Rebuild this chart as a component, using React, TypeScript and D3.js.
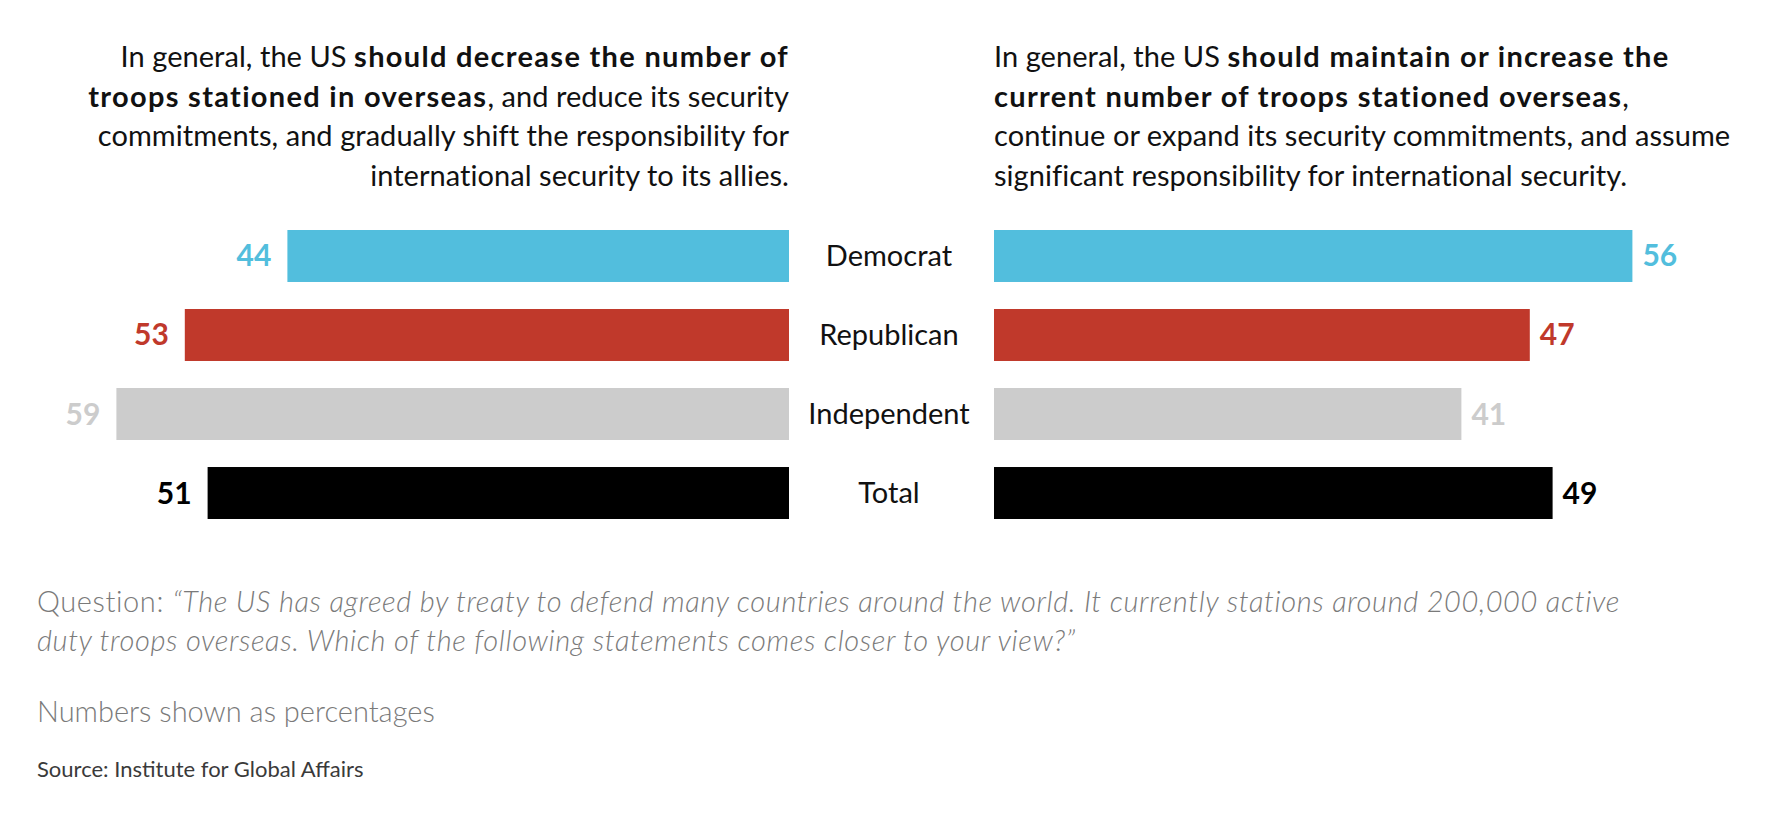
import * as d3 from "d3";

const categories = ["Democrat", "Republican", "Independent", "Total"];
const decreaseValues = [44, 53, 59, 51];
const maintainValues = [56, 47, 41, 49];
const barColors = ["#52bedd", "#c0392b", "#cccccc", "#000000"];

const leftHeading = [
  [{ t: "In general, the US ", b: false }, { t: "should decrease the number of", b: true }],
  [{ t: "troops stationed in overseas", b: true }, { t: ", and reduce its security", b: false }],
  [{ t: "commitments, and gradually shift the responsibility for", b: false }],
  [{ t: "international security to its allies.", b: false }],
];
const rightHeading = [
  [{ t: "In general, the US ", b: false }, { t: "should maintain or increase the", b: true }],
  [{ t: "current number of troops stationed overseas", b: true }, { t: ",", b: false }],
  [{ t: "continue or expand its security commitments, and assume", b: false }],
  [{ t: "significant responsibility for international security.", b: false }],
];
const questionLines = [
  "The US has agreed by treaty to defend many countries around the world. It currently stations around 200,000 active",
  "duty troops overseas. Which of the following statements comes closer to your view?\u201d",
];
const noteText = "Numbers shown as percentages";
const sourceText = "Source: Institute for Global Affairs";

const FONT = "Lato, 'Open Sans', sans-serif";

function App() {
  const width = 1775;
  const height = 821;

  const leftEdge = 789;
  const rightEdge = 994;
  const labelCenter = 889;

  const len = d3.scaleLinear().domain([0, 100]).range([0, 1140]);
  const y = d3
    .scaleBand()
    .domain(categories)
    .range([230, 519])
    .paddingInner(0.342)
    .paddingOuter(0);

  const headingTop = 67;
  const headingStep = 39.5;

  const heading = (lines: typeof leftHeading, x: number, anchor: string) => (
    <text x={x} textAnchor={anchor} fontSize={29} fill="#111">
      {lines.map((line, i) =>
        line.map((seg, j) => (
          <tspan
            key={i + "-" + j}
            x={j === 0 ? x : undefined}
            y={j === 0 ? headingTop + i * headingStep : undefined}
            fontWeight={seg.b ? 700 : 400}
            letterSpacing={seg.b ? 1.3 : 0.05}
          >
            {seg.t}
          </tspan>
        ))
      )}
    </text>
  );

  return (
    <svg
      width={width}
      height={height}
      style={{ position: "absolute", left: 0, top: 0, display: "block", background: "#fff" }}
      fontFamily={FONT}
    >
      {heading(leftHeading, leftEdge, "end")}
      {heading(rightHeading, rightEdge, "start")}

      {categories.map((c, i) => {
        const y0 = y(c)!;
        const bw = y.bandwidth();
        const lw = len(decreaseValues[i]);
        const rw = len(maintainValues[i]);
        return (
          <g key={c}>
            <rect x={leftEdge - lw} y={y0} width={lw} height={bw} fill={barColors[i]} />
            <rect x={rightEdge} y={y0} width={rw} height={bw} fill={barColors[i]} />
            <text
              x={leftEdge - lw - 16}
              y={y0 + bw / 2}
              dy="0.35em"
              textAnchor="end"
              fontSize={30}
              fontWeight={700}
              fill={barColors[i]}
            >
              {decreaseValues[i]}
            </text>
            <text
              x={rightEdge + rw + 10}
              y={y0 + bw / 2}
              dy="0.35em"
              textAnchor="start"
              fontSize={30}
              fontWeight={700}
              fill={barColors[i]}
            >
              {maintainValues[i]}
            </text>
            <text
              x={labelCenter}
              y={y0 + bw / 2}
              dy="0.35em"
              textAnchor="middle"
              fontSize={29}
              fill="#111"
            >
              {c}
            </text>
          </g>
        );
      })}

      <g fill="#7a7a7a" fontWeight={300}>
        {questionLines.map((l, i) => (
          <text key={i} x={37} y={612 + i * 39} fontSize={29} letterSpacing={0.6}>
            {i === 0 ? (
              <>
                <tspan>Question: </tspan>
                <tspan fontStyle="italic">{"\u201c" + l}</tspan>
              </>
            ) : (
              <tspan fontStyle="italic">{l}</tspan>
            )}
          </text>
        ))}
        <text x={37} y={722} fontSize={29}>
          {noteText}
        </text>
        <text x={37} y={777} fontSize={22} fill="#3a3a3a" fontWeight={400}>
          {sourceText}
        </text>
      </g>
    </svg>
  );
}

export default App;
